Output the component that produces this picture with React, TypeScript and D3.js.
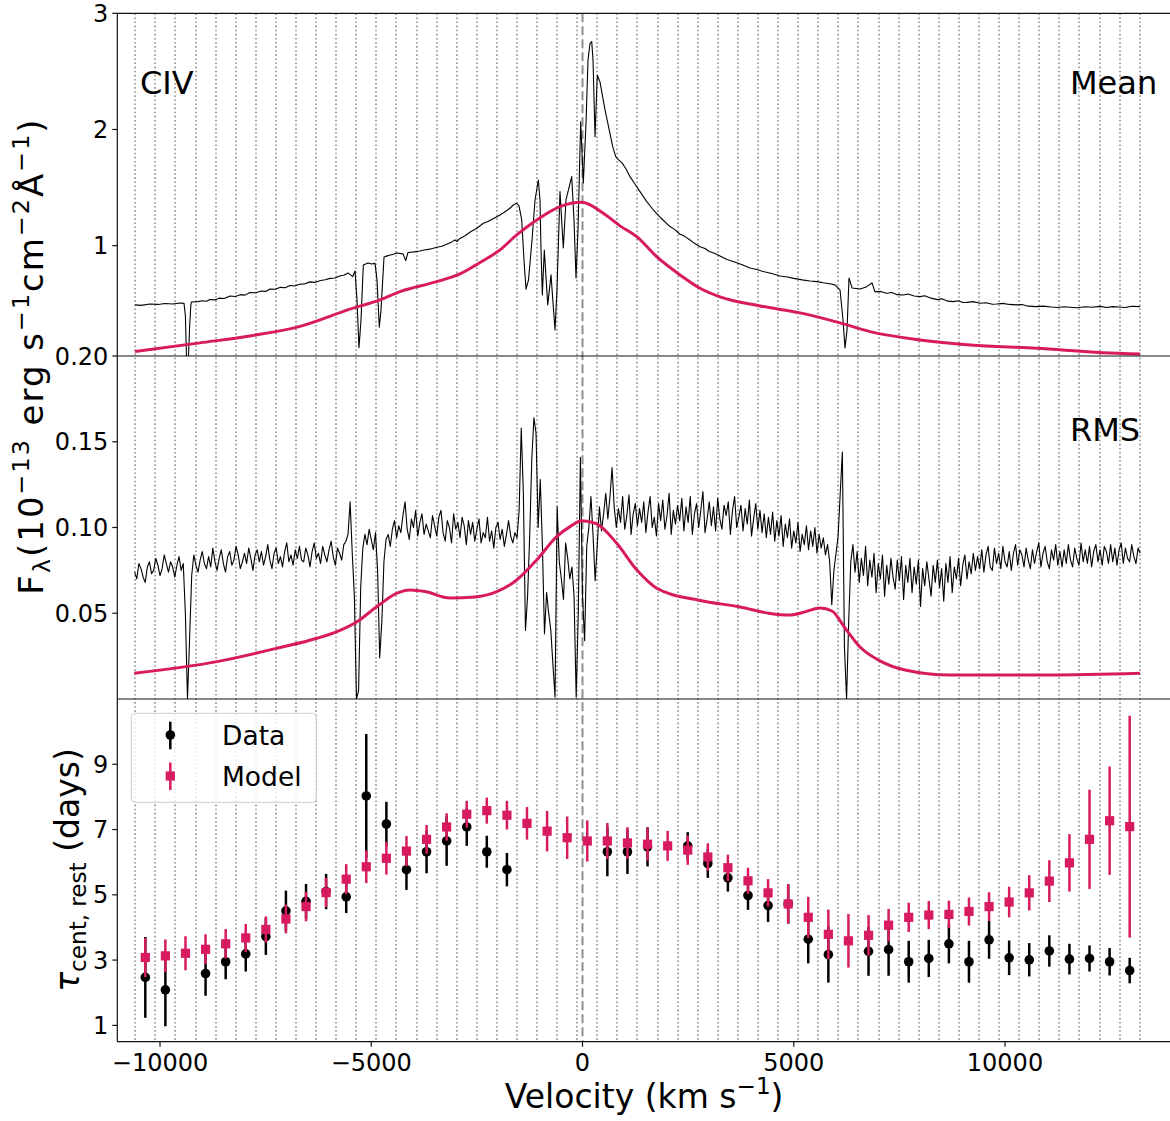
import React from 'react';
import * as d3 from 'd3';

const PINK = '#d81b60';
const FONT = '"DejaVu Sans", sans-serif';

const xTicks = [-10000, -5000, 0, 5000, 10000];
const meanTicks = [1, 2, 3];
const rmsTicks = [0.05, 0.1, 0.15, 0.2];
const tauTicks = [1, 3, 5, 7, 9];

// lag bins (km/s, bin centres)
const binCenters = [-10348, -9873, -9397, -8922, -8446, -7971, -7495, -7020, -6544, -6069, -5593, -5118, -4642, -4167, -3691, -3216, -2740, -2265, -1789, -1314, -838, -363, 113, 588, 1064, 1539, 2015, 2490, 2966, 3441, 3917, 4392, 4868, 5343, 5819, 6294, 6770, 7245, 7721, 8196, 8672, 9147, 9623, 10098, 10574, 11049, 11525, 12000, 12476, 12951];

const dataTau: (number | null)[] = [2.47, 2.09, null, 2.59, 2.95, 3.19, 3.72, 4.51, 4.8, 5.1, 4.94, 8.03, 7.17, 5.77, 6.32, 6.65, 7.08, 6.32, 5.77, null, null, null, null, 6.32, 6.32, 6.47, null, 6.5, 5.96, 5.52, 4.98, 4.67, 4.72, 3.64, 3.17, null, 3.27, 3.32, 2.95, 3.05, 3.5, 2.95, 3.62, 3.07, 3.01, 3.28, 3.03, 3.05, 2.95, 2.68];
const dataErr = [1.24, 1.12, 0, 0.68, 0.54, 0.54, 0.56, 0.62, 0.53, 0.54, 0.5, 1.9, 0.68, 0.62, 0.66, 0.76, 0.58, 0.49, 0.51, 0, 0, 0, 0, 0.75, 0.68, 0.6, 0, 0.42, 0.44, 0.42, 0.44, 0.5, 0.6, 0.74, 0.86, 0, 0.75, 0.8, 0.64, 0.57, 0.6, 0.64, 0.58, 0.53, 0.51, 0.48, 0.47, 0.4, 0.42, 0.39];

const modelTau = [3.08, 3.13, 3.21, 3.33, 3.5, 3.68, 3.94, 4.26, 4.64, 5.07, 5.48, 5.86, 6.12, 6.34, 6.7, 7.08, 7.47, 7.58, 7.44, 7.19, 6.95, 6.75, 6.65, 6.65, 6.59, 6.55, 6.5, 6.37, 6.16, 5.83, 5.43, 5.06, 4.72, 4.31, 3.79, 3.59, 3.76, 4.07, 4.31, 4.38, 4.4, 4.49, 4.64, 4.78, 5.06, 5.42, 5.98, 6.7, 7.27, 7.09];
const modelErr = [0.6, 0.5, 0.52, 0.46, 0.45, 0.43, 0.4, 0.44, 0.45, 0.45, 0.46, 0.5, 0.5, 0.46, 0.44, 0.42, 0.41, 0.4, 0.44, 0.5, 0.62, 0.65, 0.63, 0.55, 0.48, 0.5, 0.46, 0.45, 0.42, 0.4, 0.4, 0.42, 0.6, 0.63, 0.76, 0.82, 0.62, 0.5, 0.45, 0.43, 0.42, 0.43, 0.44, 0.47, 0.54, 0.64, 0.88, 1.52, 1.66, 3.4];

// mean spectrum [velocity, flux]
const meanSpectrum: [number, number][] = [
  [-10592, 0.49], [-10450, 0.486], [-10237, 0.497], [-10050, 0.494], [-9882, 0.502], [-9700, 0.498], [-9527, 0.506], [-9432, 0.503], [-9400, 0.4], [-9370, 0.0], [-9330, 0.0], [-9300, 0.3], [-9270, 0.49], [-9255, 0.515],
  [-9100, 0.518], [-9000, 0.526], [-8900, 0.521], [-8817, 0.537], [-8700, 0.533], [-8600, 0.548], [-8480, 0.545], [-8343, 0.566], [-8220, 0.562], [-8100, 0.578],
  [-7990, 0.574], [-7870, 0.597], [-7740, 0.594], [-7600, 0.61], [-7500, 0.606], [-7397, 0.627], [-7270, 0.624], [-7150, 0.641], [-7040, 0.637], [-6923, 0.657],
  [-6810, 0.652], [-6700, 0.668], [-6570, 0.671], [-6450, 0.688], [-6320, 0.684], [-6200, 0.7], [-6090, 0.706], [-5977, 0.718], [-5860, 0.722], [-5750, 0.738],
  [-5650, 0.745], [-5550, 0.765], [-5439, 0.733], [-5385, 0.782], [-5338, 0.533], [-5290, 0.122],
  [-5243, 0.36], [-5188, 0.834], [-5077, 0.851], [-4990, 0.842], [-4911, 0.847], [-4864, 0.705], [-4810, 0.298], [-4769, 0.447], [-4698, 0.903], [-4620, 0.912], [-4550, 0.92], [-4470, 0.926], [-4398, 0.937],
  [-4249, 0.929], [-4185, 0.871], [-4130, 0.941], [-3990, 0.946], [-3846, 0.954], [-3750, 0.962], [-3650, 0.968], [-3550, 0.975], [-3451, 0.986], [-3330, 0.995], [-3200, 1.015], [-3100, 1.03], [-3018, 1.049], [-2970, 1.036], [-2900, 1.062],
  [-2780, 1.085], [-2650, 1.12], [-2500, 1.15], [-2348, 1.193], [-2250, 1.205], [-2150, 1.225], [-2050, 1.245], [-1953, 1.264], [-1870, 1.283], [-1800, 1.3], [-1720, 1.322], [-1638, 1.35], [-1557, 1.365], [-1503, 1.342], [-1439, 1.221], [-1385, 0.877],
  [-1337, 0.625], [-1278, 0.705], [-1195, 1.049], [-1124, 1.393], [-1046, 1.565], [-1006, 1.393], [-982, 0.963], [-951, 0.576], [-904, 0.963], [-823, 0.49],
  [-746, 0.748], [-651, 0.275], [-604, 0.619], [-533, 1.465], [-454, 0.98], [-391, 1.393], [-256, 1.594], [-201, 1.221], [-154, 0.722], [-107, 1.135],
  [-43, 2.067], [19, 1.54], [83, 2.056], [130, 2.598], [178, 2.742], [218, 2.756], [249, 2.598], [296, 1.938], [350, 2.469], [414, 2.409],
  [533, 2.168], [715, 1.852], [786, 1.766], [850, 1.74], [935, 1.712], [1030, 1.66], [1124, 1.594], [1240, 1.53], [1361, 1.465], [1500, 1.39], [1676, 1.307],
  [1850, 1.24], [2071, 1.164], [2180, 1.14], [2300, 1.1], [2420, 1.08], [2544, 1.049], [2650, 1.02], [2781, 0.991], [2900, 0.975], [3000, 0.95],
  [3120, 0.935], [3254, 0.911], [3420, 0.88], [3600, 0.86], [3780, 0.835], [3964, 0.808], [4120, 0.795], [4300, 0.775], [4480, 0.76], [4675, 0.739],
  [4850, 0.73], [5000, 0.718], [5200, 0.705], [5385, 0.696], [5550, 0.69], [5700, 0.68], [5850, 0.672], [5976, 0.662], [6095, 0.619], [6166, 0.36], [6213, 0.12], [6261, 0.275], [6308, 0.722], [6379, 0.636], [6568, 0.627], [6700, 0.641], [6852, 0.679], [6923, 0.602],
  [7050, 0.606], [7200, 0.59], [7320, 0.596], [7450, 0.578], [7600, 0.575], [7700, 0.583], [7850, 0.566], [7988, 0.561], [8100, 0.568], [8250, 0.548],
  [8400, 0.535], [8500, 0.542], [8650, 0.522], [8777, 0.518], [8900, 0.526], [9000, 0.511], [9100, 0.512], [9250, 0.518], [9408, 0.504], [9550, 0.509],
  [9700, 0.496], [9800, 0.497], [9950, 0.503], [10100, 0.494], [10277, 0.49], [10400, 0.493], [10550, 0.479], [10750, 0.475], [10900, 0.479], [11100, 0.472],
  [11250, 0.468], [11400, 0.474], [11539, 0.47], [11700, 0.465], [11900, 0.474], [12050, 0.47], [12249, 0.477], [12400, 0.468], [12550, 0.475], [12700, 0.472],
  [12850, 0.468], [13000, 0.478], [13196, 0.475],
];

const meanModel: [number, number][] = [
  [-10592, 0.088], [-9053, 0.163], [-7870, 0.223], [-6686, 0.305], [-5503, 0.453], [-4793, 0.533], [-4320, 0.604], [-3451, 0.69], [-2900, 0.756], [-2426, 0.855],
  [-1953, 0.963], [-1557, 1.092], [-1084, 1.221], [-533, 1.336], [-19, 1.373], [492, 1.279], [888, 1.17], [1283, 1.077], [1756, 0.905], [2308, 0.748],
  [2781, 0.633], [3254, 0.559], [4201, 0.481], [5148, 0.421], [6095, 0.335], [6805, 0.26], [7988, 0.188], [9172, 0.145], [10750, 0.117], [12320, 0.079], [13196, 0.068],
];

// RMS spectrum: values in units of 1e-3 on a 50 km/s grid starting at -10600
const rmsStartVel = -10600;
const rmsStepVel = 50;
const rmsMilli = [
  74, 70, 79, 76, 71, 68, 77, 80, 73, 75, 82, 78, 72, 76, 84, 79, 74, 80, 77, 71,
  78, 83, 75, 79, 50, 0, 35, 72, 84, 78, 74, 81, 86, 79, 76, 83, 77, 88, 80, 75,
  82, 87, 79, 74, 83, 86, 78, 81, 89, 84, 76, 80, 85, 79, 88, 82, 75, 84, 87, 80,
  86, 78, 83, 90, 81, 76, 85, 88, 79, 83, 77, 86, 91, 80, 84, 78, 87, 82, 89, 81,
  80, 88, 84, 77, 86, 91, 82, 85, 79, 89, 84, 80, 87, 92, 83, 78, 88, 85, 81, 90,
  92, 96, 115, 85, 60, 0, 5, 65, 88, 96, 90, 99, 93, 87, 97, 75, 24, 45, 80, 93,
  96, 89, 99, 104, 94, 101, 97, 107, 115, 99, 93, 105, 100, 110, 95, 103, 108, 96, 102, 98,
  94, 107, 101, 95, 106, 110, 97, 92, 104, 100, 91, 108, 99, 103, 94, 106, 101, 90, 104, 96,
  103, 92, 99, 105, 91, 97, 94, 106, 92, 98, 88, 100, 103, 93, 99, 89, 96, 104, 95, 91,
  97, 94, 110, 158, 120, 40, 60, 95, 140, 164, 155, 100, 128, 90, 38, 62, 50, 40, 20, 1,
  112, 80, 70, 58, 91, 82, 70, 77, 60, 1, 50, 141, 60, 34, 89, 100, 118, 95, 69, 90,
  112, 98, 108, 120, 105, 118, 135, 112, 100, 111, 103, 118, 99, 107, 119, 96, 108, 114, 101, 111,
  103, 115, 97, 109, 118, 100, 106, 95, 114, 104, 116, 99, 107, 120, 96, 110, 102, 113, 104, 117,
  98, 112, 103, 118, 96, 108, 114, 100, 110, 121, 97, 105, 115, 101, 112, 98, 117, 105, 99, 113,
  107, 115, 96, 110, 118, 100, 106, 113, 98, 111, 102, 116, 95, 105, 114, 99, 110, 97, 108, 94,
  106, 96, 109, 92, 104, 95, 107, 89, 102, 94, 105, 88, 98, 91, 103, 86, 96, 90, 101, 87,
  98, 89, 100, 85, 96, 88, 94, 84, 90, 80, 55, 75, 85, 95, 120, 144, 30, 0, 45, 80,
  90, 74, 86, 68, 82, 72, 89, 66, 81, 71, 85, 62, 79, 70, 84, 60, 78, 67, 82, 71,
  64, 81, 69, 83, 58, 78, 68, 82, 62, 77, 67, 81, 54, 76, 66, 80, 70, 60, 78, 68,
  81, 65, 76, 57, 79, 68, 83, 62, 77, 70, 82, 66, 78, 84, 70, 80, 73, 85, 75, 83,
  76, 87, 74, 84, 89, 77, 75, 88, 79, 85, 76, 89, 80, 77, 86, 75, 85, 90, 78, 87,
  84, 77, 88, 81, 76, 87, 79, 86, 91, 77, 85, 89, 80, 76, 87, 81, 90, 78, 86, 77,
  87, 79, 90, 81, 77, 88, 82, 78, 91, 80, 87, 79, 89, 77, 86, 90, 80, 87, 78, 89,
  86, 79, 90, 80, 88, 78, 87, 91, 79, 88, 82, 80, 90, 83, 79, 88, 85,
];

const rmsModel: [number, number][] = [
  [-10609, 0.015], [-8651, 0.0218], [-7231, 0.0296], [-6284, 0.0354], [-5811, 0.0393], [-5337, 0.0451], [-4864, 0.0539], [-4391, 0.0617], [-4083, 0.0636], [-3728, 0.0627],
  [-3137, 0.0589], [-2544, 0.0595], [-2031, 0.0626], [-1557, 0.0694], [-1084, 0.0811], [-611, 0.0947], [-296, 0.1005], [-19, 0.104], [336, 0.1021], [809, 0.0908],
  [1283, 0.0753], [1756, 0.0646], [2781, 0.0574], [3728, 0.0537], [4438, 0.0499], [4911, 0.049], [5266, 0.0508], [5621, 0.0531], [5905, 0.0513], [6213, 0.0414],
  [6568, 0.0303], [7041, 0.0222], [7633, 0.0169], [8698, 0.014], [11065, 0.014], [13196, 0.015],
];

type Part = [string, 'n' | 'sup' | 'sub', boolean?];

function Rich({ x, y, fs, rotate = 0, anchor = 'middle', parts, spacing = 0 }: { x: number; y: number; fs: number; rotate?: number; anchor?: string; parts: Part[]; spacing?: number }) {
  let cur = 0;
  return (
    <text transform={`translate(${x},${y}) rotate(${rotate})`} textAnchor={anchor} fontSize={fs} fontFamily={FONT} fill="#000" style={{ whiteSpace: 'pre', letterSpacing: spacing + 'px' }}>
      {parts.map((p, i) => {
        const off = p[1] === 'sup' ? -0.42 * fs : p[1] === 'sub' ? 0.22 * fs : 0;
        const dy = off - cur;
        cur = off;
        return (
          <tspan key={i} dy={dy} fontSize={p[1] === 'n' ? fs : fs * 0.7} fontStyle={p[2] ? 'italic' : 'normal'}>
            {p[0]}
          </tspan>
        );
      })}
    </text>
  );
}

export default function App() {
  const W = 1170, H = 1121;
  const L = 117.3, R = 1171;
  const T1 = 13.3, B1 = 356, B2 = 699, B3 = 1041.7;

  const x = d3.scaleLinear().domain([-11011, 13929]).range([L, R]);
  const yTop = d3.scaleLinear().domain([0.05, 3]).range([B1, T1]);
  const yMid = d3.scaleLinear().domain([0, 0.2]).range([B2, B1]);
  const yBot = d3.scaleLinear().domain([0.5, 11]).range([B3, B2]);

  const n = binCenters.length;
  const edges: number[] = [];
  edges.push(binCenters[0] - (binCenters[1] - binCenters[0]) / 2);
  for (let k = 1; k < n; k++) edges.push((binCenters[k - 1] + binCenters[k]) / 2);
  edges.push(binCenters[n - 1] + (binCenters[n - 1] - binCenters[n - 2]) / 2);

  const lineTop = d3.line<[number, number]>().x((d) => x(d[0])).y((d) => yTop(d[1]));
  const lineMid = d3.line<[number, number]>().x((d) => x(d[0])).y((d) => yMid(d[1]));
  const smoothTop = d3.line<[number, number]>().x((d) => x(d[0])).y((d) => yTop(d[1])).curve(d3.curveMonotoneX);
  const smoothMid = d3.line<[number, number]>().x((d) => x(d[0])).y((d) => yMid(d[1])).curve(d3.curveMonotoneX);
  const rmsPts: [number, number][] = rmsMilli.map((m, i) => [rmsStartVel + i * rmsStepVel, m / 1000]);

  const fmt2 = d3.format('.2f');
  const minus = (s: string) => s.replace('-', '\u2212');

  return (
    <div style={{ position: 'absolute', left: 0, top: 0 }}>
      <svg width={W} height={H} style={{ display: 'block', background: '#fff' }}>
        <defs>
          <clipPath id="c1"><rect x={L} y={T1} width={R - L} height={B1 - T1} /></clipPath>
          <clipPath id="c2"><rect x={L} y={B1} width={R - L} height={B2 - B1} /></clipPath>
          <clipPath id="c3"><rect x={L} y={B2} width={R - L} height={B3 - B2} /></clipPath>
        </defs>

        {/* bin edges */}
        {edges.map((e, i) => {
          const ex = Math.round(x(e));
          return <line key={'e' + i} x1={ex} x2={ex} y1={T1} y2={B3} stroke="#8e8e8e" strokeWidth={1.6} strokeDasharray="1.6,2.5" />;
        })}
        <line x1={x(0)} x2={x(0)} y1={T1} y2={B3} stroke="#8f8f8f" strokeWidth={2} strokeDasharray="9,4" />

        {/* top panel */}
        <g clipPath="url(#c1)">
          <path d={lineTop(meanSpectrum) || ''} fill="none" stroke="#000" strokeWidth={1.1} strokeLinejoin="round" />
          <path d={smoothTop(meanModel) || ''} fill="none" stroke={PINK} strokeWidth={3} />
        </g>

        {/* middle panel */}
        <g clipPath="url(#c2)">
          <path d={lineMid(rmsPts) || ''} fill="none" stroke="#000" strokeWidth={1.1} strokeLinejoin="round" />
          <path d={smoothMid(rmsModel) || ''} fill="none" stroke={PINK} strokeWidth={3} />
        </g>

        {/* bottom panel */}
        <g clipPath="url(#c3)">
          {binCenters.map((c, i) => {
            const v = dataTau[i];
            if (v === null) return null;
            const cx = x(c);
            return (
              <g key={'d' + i}>
                <line x1={cx} x2={cx} y1={yBot(v - dataErr[i])} y2={yBot(v + dataErr[i])} stroke="#000" strokeWidth={2.5} />
                <circle cx={cx} cy={yBot(v)} r={4.8} fill="#000" />
              </g>
            );
          })}
          {binCenters.map((c, i) => {
            const v = modelTau[i];
            const cx = x(c);
            return (
              <g key={'m' + i}>
                <line x1={cx} x2={cx} y1={yBot(v - modelErr[i])} y2={yBot(v + modelErr[i])} stroke={PINK} strokeWidth={2.5} />
                <rect x={cx - 4.6} y={yBot(v) - 4.6} width={9.2} height={9.2} fill={PINK} />
              </g>
            );
          })}
        </g>

        {/* legend */}
        <g>
          <rect x={131.3} y={713.3} width={185} height={89} rx={4} fill="#fff" fillOpacity={0.8} stroke="#cccccc" strokeWidth={1} />
          <line x1={170.3} x2={170.3} y1={721.7} y2={749.3} stroke="#000" strokeWidth={2.5} />
          <circle cx={170.3} cy={735} r={4.8} fill="#000" />
          <line x1={170.3} x2={170.3} y1={762.5} y2={790} stroke={PINK} strokeWidth={2.5} />
          <rect x={170.3 - 4.6} y={776 - 4.6} width={9.2} height={9.2} fill={PINK} />
          <text x={222} y={744.5} fontSize={26.5} fontFamily={FONT}>Data</text>
          <text x={222} y={786} fontSize={26.5} fontFamily={FONT}>Model</text>
        </g>

        {/* spines */}
        <g stroke="#111" strokeWidth={1.2} fill="none">
          <line x1={L} x2={R} y1={T1} y2={T1} />
          <line x1={L} x2={R} y1={B1} y2={B1} />
          <line x1={L} x2={R} y1={B2} y2={B2} />
          <line x1={L} x2={R} y1={B3} y2={B3} />
          <line x1={L} x2={L} y1={T1} y2={B3} />
        </g>

        {/* y ticks */}
        <g fontFamily={FONT} fontSize={24} textAnchor="end">
          {meanTicks.map((t) => (
            <g key={'mt' + t}>
              <line x1={L - 5} x2={L} y1={yTop(t)} y2={yTop(t)} stroke="#111" strokeWidth={1.2} />
              <text x={L - 9} y={yTop(t)} dy="0.36em">{t}</text>
            </g>
          ))}
          {rmsTicks.map((t) => (
            <g key={'rt' + t}>
              <line x1={L - 5} x2={L} y1={yMid(t)} y2={yMid(t)} stroke="#111" strokeWidth={1.2} />
              <text x={L - 9} y={yMid(t)} dy="0.36em">{fmt2(t)}</text>
            </g>
          ))}
          {tauTicks.map((t) => (
            <g key={'tt' + t}>
              <line x1={L - 5} x2={L} y1={yBot(t)} y2={yBot(t)} stroke="#111" strokeWidth={1.2} />
              <text x={L - 9} y={yBot(t)} dy="0.36em">{t}</text>
            </g>
          ))}
        </g>

        {/* x ticks */}
        <g fontFamily={FONT} fontSize={24} textAnchor="middle">
          {xTicks.map((t) => (
            <g key={'xt' + t}>
              <line x1={x(t)} x2={x(t)} y1={B3} y2={B3 + 5} stroke="#111" strokeWidth={1.2} />
              <text x={x(t)} y={1070.5}>{minus(String(t))}</text>
            </g>
          ))}
        </g>

        {/* panel labels */}
        <text x={140} y={94} fontSize={32} fontFamily={FONT}>CIV</text>
        <text x={1070} y={94} fontSize={32} fontFamily={FONT}>Mean</text>
        <text x={1070} y={441} fontSize={32} fontFamily={FONT}>RMS</text>

        {/* axis labels */}
        <Rich x={(L + R) / 2} y={1108} fs={33} parts={[['Velocity (km s', 'n'], ['\u22121', 'sup'], [')', 'n']]} />
        <Rich x={43} y={356} fs={34} spacing={2} rotate={-90} parts={[['F', 'n'], ['\u03bb', 'sub'], ['(10', 'n'], ['\u221213', 'sup'], [' erg s', 'n'], ['\u22121', 'sup'], ['cm', 'n'], ['\u22122', 'sup'], ['\u00c5', 'n'], ['\u22121', 'sup'], [')', 'n']]} />
        <Rich x={79} y={870} fs={33} rotate={-90} parts={[['\u03c4', 'n', true], ['cent, rest', 'sub'], [' (days)', 'n']]} />
      </svg>
    </div>
  );
}
